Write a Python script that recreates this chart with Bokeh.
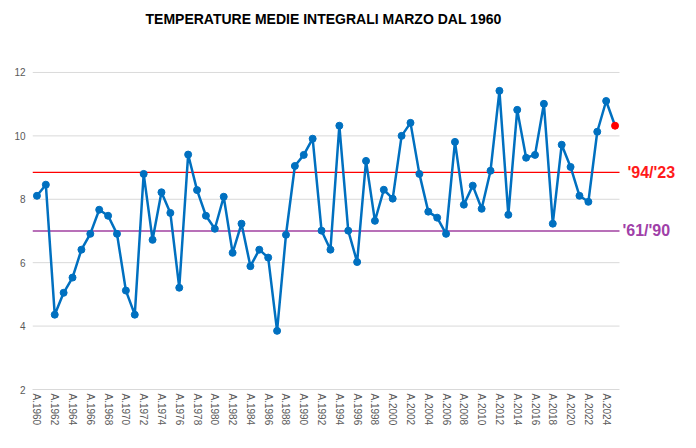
from bokeh.plotting import figure
from bokeh.models import Label, FixedTicker, ColumnDataSource, Title
from bokeh.embed import file_html
from bokeh.resources import INLINE

years = list(range(1960, 2026))
temps = [8.11, 8.46, 4.36, 5.05, 5.53, 6.41, 6.91, 7.67, 7.48, 6.91,
         5.12, 4.36, 8.80, 6.72, 8.22, 7.57, 5.21, 9.41, 8.29, 7.48,
         7.07, 8.08, 6.31, 7.23, 5.89, 6.41, 6.16, 3.85, 6.88, 9.05,
         9.40, 9.91, 7.01, 6.41, 10.32, 7.01, 6.02, 9.21, 7.32, 8.30,
         8.02, 10.00, 10.41, 8.80, 7.61, 7.42, 6.91, 9.81, 7.83, 8.43,
         7.70, 8.90, 11.42, 7.51, 10.82, 9.31, 9.40, 11.01, 7.23, 9.72,
         9.02, 8.11, 7.92, 10.13, 11.10, 10.32]
mean_94_23 = 8.85
mean_61_90 = 7.0
ref_labels = ["'94/'23", "'61/'90"]
title_text = "TEMPERATURE MEDIE INTEGRALI MARZO DAL 1960"
tick_years = list(range(1960, 2026, 2))
tick_labels = {y: "A.%d" % y for y in tick_years}
y_ticks = [2, 4, 6, 8, 10, 12]

# layout: plot area 32..619 px for the 66 year slots, extra room on the right for labels
x0, x1 = years[0] - 0.5, years[-1] + 0.5
px_per_year = 587 / (x1 - x0)
frame_w = 680 - 32
x_end = x0 + frame_w / px_per_year

p = figure(width=680, height=432, output_backend="svg", toolbar_location=None,
           x_range=(x0, x_end), y_range=(2, 12.03),
           min_border_left=32, min_border_right=0, min_border_top=71,
           min_border_bottom=43)
p.outline_line_color = None
p.background_fill_color = "white"
p.border_fill_color = "white"

p.add_layout(Title(text=" ", text_font_size="25px"), "above")
p.add_layout(Title(text=title_text, align="left", offset=113, text_font="Liberation Sans",
                   text_font_size="14px", text_font_style="bold", text_color="black"), "above")

p.xgrid.grid_line_color = None
p.ygrid.grid_line_color = None
p.yaxis.ticker = FixedTicker(ticks=y_ticks)
p.xaxis.ticker = FixedTicker(ticks=tick_years)
p.xaxis.major_label_overrides = tick_labels
p.xaxis.major_label_orientation = "vertical"
p.xaxis.bounds = (x0, x1)

for ax in (p.xaxis, p.yaxis):
    ax.major_tick_line_color = None
    ax.minor_tick_line_color = None
    ax.major_tick_out = 0
    ax.major_tick_in = 0
    ax.major_label_text_font = "Liberation Sans"
    ax.major_label_text_font_size = "10px"
    ax.major_label_text_color = "#595959"
p.yaxis.axis_line_color = None
p.xaxis.axis_line_color = "#d9d9d9"
p.yaxis.major_label_standoff = 7
p.xaxis.major_label_standoff = 4

# horizontal gridlines limited to the plot area
gy = y_ticks[1:]
p.segment(x0=[x0] * len(gy), y0=gy, x1=[x1] * len(gy), y1=gy, line_color="#d9d9d9", line_width=1)

# reference means
p.segment(x0=[x0], y0=[mean_94_23], x1=[x1], y1=[mean_94_23], line_color="#ff0000", line_width=1.3)
p.segment(x0=[x0], y0=[mean_61_90], x1=[x1], y1=[mean_61_90], line_color="#a040a0", line_width=1.3)

src = ColumnDataSource(dict(x=years, y=temps))
p.line("x", "y", source=src, line_color="#0070c0", line_width=2.5)
p.scatter("x", "y", source=ColumnDataSource(dict(x=years[:-1], y=temps[:-1])),
          size=7, fill_color="#0070c0", line_color="#0070c0")
p.scatter([years[-1]], [temps[-1]], size=7, fill_color="#ff0000", line_color="#ff0000")

p.add_layout(Label(x=x1 + 8 / px_per_year, y=mean_94_23, text=ref_labels[0], text_baseline="middle",
                   text_font="Liberation Sans", text_font_size="16px", text_font_style="bold",
                   text_color="#ff1a1a"))
p.add_layout(Label(x=x1 + 3 / px_per_year, y=mean_61_90, text=ref_labels[1], text_baseline="middle",
                   text_font="Liberation Sans", text_font_size="16px", text_font_style="bold",
                   text_color="#a040a8"))

open("out.html", "w").write(file_html(p, INLINE))
